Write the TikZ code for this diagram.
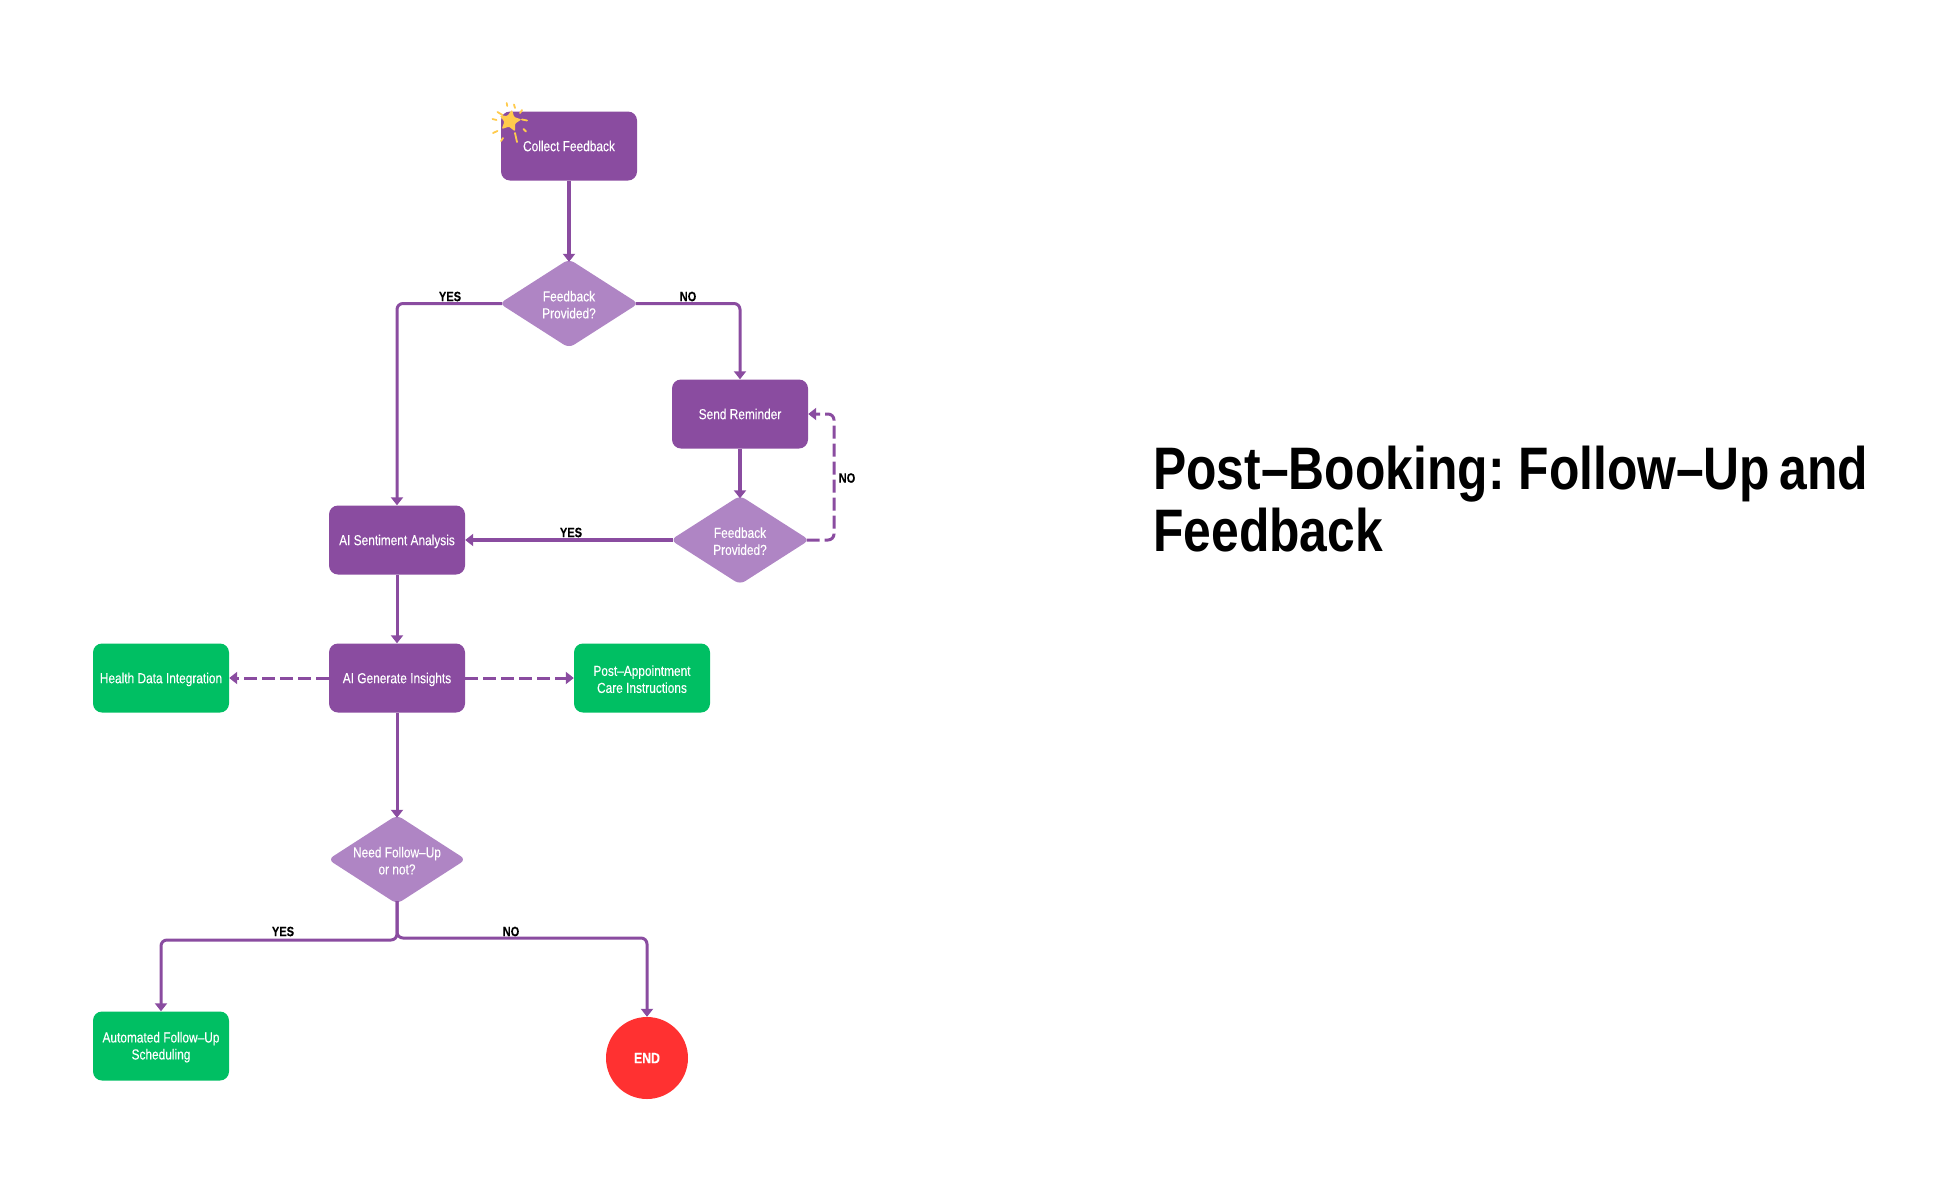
\documentclass[tikz,border=0pt]{standalone}
\usepackage{fontspec}
\setmainfont{Liberation Sans}[FakeStretch=0.82,FakeBold=0.12]
\newfontfamily\titlefont{Liberation Sans}[FakeStretch=0.83,WordSpace=0.68]
\usetikzlibrary{shapes.geometric,arrows.meta}
\definecolor{purp}{HTML}{8A4CA0}
\definecolor{lilac}{HTML}{AF85C4}
\definecolor{grn}{HTML}{00BF63}
\definecolor{redd}{HTML}{FF3131}
\definecolor{gold}{HTML}{FFCB4D}
\tikzset{
  x=1pt,y=-1pt,
  basetx/.style={text=white,font=\fontsize{14.5}{17}\selectfont,align=center,inner sep=0pt},
  tx/.style={basetx,execute at begin node={\rule{0pt}{14.2pt}},execute at end node={\rule[-3.8pt]{0pt}{3.8pt}}},
  pbox/.style={tx,rectangle,rounded corners=9pt,fill=purp,minimum width=136pt,minimum height=69pt},
  gbox/.style={tx,rectangle,rounded corners=9pt,fill=grn,minimum width=136pt,minimum height=69pt},
  dec/.style={diamond,fill=lilac,rounded corners=6pt,aspect=1.58,minimum width=139pt,minimum height=89pt,inner sep=0pt},
  dectx/.style={basetx,yshift=-1.2pt},
  endc/.style={tx,circle,fill=redd,minimum size=82pt,font=\bfseries\fontsize{15}{17}\selectfont},
  conn/.style={draw=purp,line width=3pt,rounded corners=6pt,-{Triangle[width=12pt,length=8pt]}},
  connb/.style={conn,line width=3.6pt},
  dconn/.style={conn,dash pattern=on 13pt off 5pt},
  lab/.style={text=black,font=\bfseries\fontsize{13.5}{15}\selectfont,inner sep=0pt},
  ray/.style={draw=gold,line width=1.8pt,line cap=round},
  fromd/.style={shorten <=-3pt},
  tod/.style={shorten >=-3pt},
  titletext/.style={text=black,inner sep=0pt,align=left,anchor=base west,font=\titlefont\bfseries\fontsize{60}{62}\selectfont}
}
\begin{document}
\begin{tikzpicture}
\useasboundingbox (0,0) rectangle (1944,1200);
\node[pbox] (collect) at (569,146) {Collect Feedback};
\node[dec,label={[dectx]center:Feedback\\Provided?}] (d1) at (569,303.5) {};
\node[pbox] (remind) at (740,414) {Send Reminder};
\node[dec,label={[dectx]center:Feedback\\Provided?}] (d2) at (740,540) {};
\node[pbox] (sent) at (397,540) {AI Sentiment Analysis};
\node[pbox] (gen) at (397,678) {AI Generate Insights};
\node[gbox] (health) at (161,678) {Health Data Integration};
\node[gbox,label={[dectx]center:Post–Appointment\\Care Instructions}] (care) at (642,678) {};
\node[dec,minimum width=138pt,label={[dectx]center:Need Follow–Up\\or not?}] (d3) at (397,859.5) {};
\node[gbox,label={[dectx]center:Automated Follow–Up\\Scheduling}] (auto) at (161,1046) {};
\node[endc] (end) at (647,1058) {END};

\coordinate (loop) at (834,540);
\coordinate (jy) at (397,940);
\coordinate (jn) at (397,938);

\draw[connb,tod] (collect.south) -- (d1.north);
\draw[conn,fromd] (d1.west) -| (sent.north);
\draw[conn,fromd] (d1.east) -| (remind.north);
\draw[connb,tod] (remind.south) -- (d2.north);
\draw[connb,fromd] (d2.west) -- (sent.east);
\draw[dconn,fromd] (d2.east) -- (loop) |- (remind.east);
\draw[conn] (sent.south) -- (gen.north);
\draw[dconn] (gen.west) -- (health.east);
\draw[dconn] (gen.east) -- (care.west);
\draw[conn,tod] (gen.south) -- (d3.north);
\draw[conn,fromd] (d3.south) -- (jy) -| (auto.north);
\draw[conn,fromd] (d3.south) -- (jn) -| (end.north);

\node[lab] (l1) at (450,296.5) {YES};
\node[lab] (l2) at (688,296.5) {NO};
\node[lab] (l3) at (847,478) {NO};
\node[lab] (l4) at (571,532.5) {YES};
\node[lab] (l5) at (283,931.5) {YES};
\node[lab] (l6) at (511,931.5) {NO};

\node[titletext] (title) at (1153,551) {Post–Booking: Follow–Up and\\Feedback};

% spark on the first box
\node[star,star points=5,star point ratio=2,fill=gold,rounded corners=1pt,minimum size=23pt,inner sep=0pt,rotate=-10] (spark) at (510,121) {};
\draw[ray] (506.7,103) -- (507.2,106);
\draw[ray] (515,108) -- (514,104.5);
\draw[ray] (522,110) -- (520,113);
\draw[ray] (497.5,112) -- (502.5,115);
\draw[ray] (492.5,119) -- (496.5,120);
\draw[ray] (522,119.5) -- (527,120.5);
\draw[ray] (523.5,129) -- (526,131.5);
\draw[ray] (493,133) -- (497.5,131);
\draw[ray] (501,141) -- (503,138);
\draw[ray] (515,133) -- (517,142);
\end{tikzpicture}
\end{document}
